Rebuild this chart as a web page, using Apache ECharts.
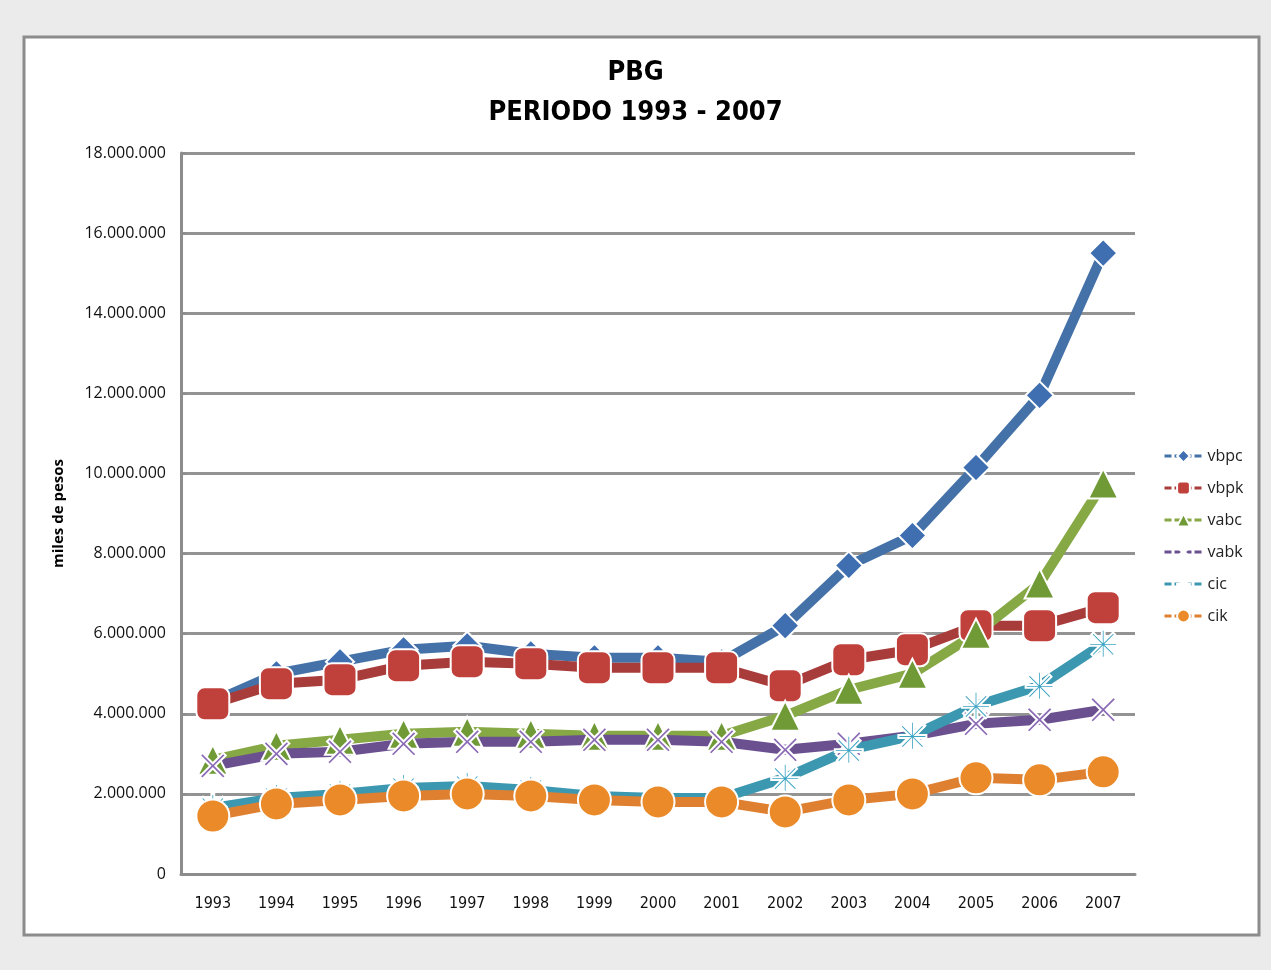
<!DOCTYPE html>
<html><head><meta charset="utf-8">
<script src="https://cdn.jsdelivr.net/npm/echarts@6/dist/echarts.min.js"></script>
<style>html,body{margin:0;padding:0;background:#ebebeb;}#c{width:1271px;height:970px;}</style>
</head><body><div id="c"></div>
<script>
const years = ['1993','1994','1995','1996','1997','1998','1999','2000','2001','2002','2003','2004','2005','2006','2007'];
const vbpc = [4300000,5000000,5300000,5600000,5700000,5500000,5400000,5400000,5300000,6200000,7700000,8450000,10150000,11950000,15500000];
const vbpk = [4250000,4750000,4850000,5200000,5300000,5250000,5150000,5150000,5150000,4700000,5350000,5600000,6200000,6200000,6650000];
const vabc = [2850000,3200000,3350000,3500000,3550000,3500000,3450000,3450000,3450000,3950000,4600000,5000000,6000000,7250000,9750000];
const vabk = [2700000,3000000,3050000,3250000,3300000,3300000,3350000,3350000,3300000,3100000,3250000,3450000,3750000,3850000,4100000];
const cic  = [1650000,1900000,2000000,2150000,2200000,2100000,1950000,1900000,1900000,2400000,3100000,3450000,4200000,4700000,5750000];
const cik  = [1450000,1750000,1850000,1950000,2000000,1950000,1850000,1800000,1800000,1550000,1850000,2000000,2400000,2350000,2550000];
const yTicks = { min: 0, max: 18000000, interval: 2000000 };

const COND = '"DejaVu Sans Condensed", "Roboto Condensed", Roboto, sans-serif';
const chart = echarts.init(document.getElementById('c'));
const fmt = v => v === 0 ? '0' : String(v).replace(/\B(?=(\d{3})+(?!\d))/g, '.');
const xPath = 'path://M0,2L2,0L10,8L18,0L20,2L12,10L20,18L18,20L10,12L2,20L0,18L8,10Z';
const starPath = 'path://M9,0H11V8L17,2L18.5,3.5L12.5,9.5H20V11.5H12.5L18.5,17.5L17,19L11,13V20H9V13L3,19L1.5,17.5L7.5,11.5H0V9.5H7.5L1.5,3.5L3,2L9,8Z';
function mk(name, data, lineColor, markColor, symbol, size) {
  return {
    name, type: 'line', data, symbol, symbolSize: size,
    lineStyle: { color: lineColor, width: 10 },
    itemStyle: { color: markColor, borderColor: '#fff', borderWidth: 2 },
    emphasis: { disabled: true }
  };
}
chart.setOption({
  backgroundColor: '#ebebeb',
  animation: false,
  graphic: [{ type: 'rect', shape: { x: 24, y: 37, width: 1235, height: 898 }, style: { fill: '#fff', stroke: '#8c8c8c', lineWidth: 3 }, z: -10 }],
  title: {
    text: 'PBG\nPERIODO 1993 - 2007', left: 'center', top: 48,
    textStyle: { fontFamily: COND, fontWeight: 'bold', fontSize: 27, lineHeight: 40, color: '#000' }
  },
  legend: {
    orient: 'vertical', left: 1158, top: 443, itemGap: 16, itemWidth: 38, itemHeight: 16,
    lineStyle: { width: 3, type: [7, 3] },
    textStyle: { fontFamily: 'Open Sans', fontSize: 16, color: '#222' },
    data: ['vbpc','vbpk','vabc','vabk','cic','cik']
  },
  grid: { left: 181, right: 136, top: 153, bottom: 96 },
  xAxis: {
    type: 'category', data: years, boundaryGap: true,
    axisLine: { lineStyle: { color: '#8c8c8c', width: 3 } },
    axisTick: { show: false },
    axisLabel: { margin: 22, fontFamily: COND, fontSize: 16, color: '#111' }
  },
  yAxis: {
    type: 'value', min: yTicks.min, max: yTicks.max, interval: yTicks.interval,
    name: 'miles de pesos', nameLocation: 'middle', nameGap: 115, nameRotate: 90,
    nameTextStyle: { fontFamily: 'Open Sans', fontWeight: 'bold', fontSize: 15, color: '#000' },
    axisLine: { show: true, lineStyle: { color: '#8c8c8c', width: 3 } },
    axisTick: { show: true, inside: true, length: 5, lineStyle: { color: '#8c8c8c', width: 2 } },
    splitLine: { lineStyle: { color: '#939393', width: 3 } },
    axisLabel: { margin: 15, formatter: fmt, fontFamily: 'Open Sans', fontSize: 16, color: '#111' }
  },
  series: [
    mk('vbpc', vbpc, '#4472a8', '#3f6fb0', 'diamond', 28),
    mk('vbpk', vbpk, '#a83c3a', '#c0403c', 'roundRect', 33),
    mk('vabc', vabc, '#86a845', '#6f9a36', 'triangle', 30),
    mk('vabk', vabk, '#6b5090', '#8a6ab5', xPath, 26),
    mk('cic', cic, '#3c98b0', '#3aa3c2', starPath, 28),
    mk('cik', cik, '#df8030', '#ea8a28', 'circle', 33)
  ]
});
</script></body></html>
